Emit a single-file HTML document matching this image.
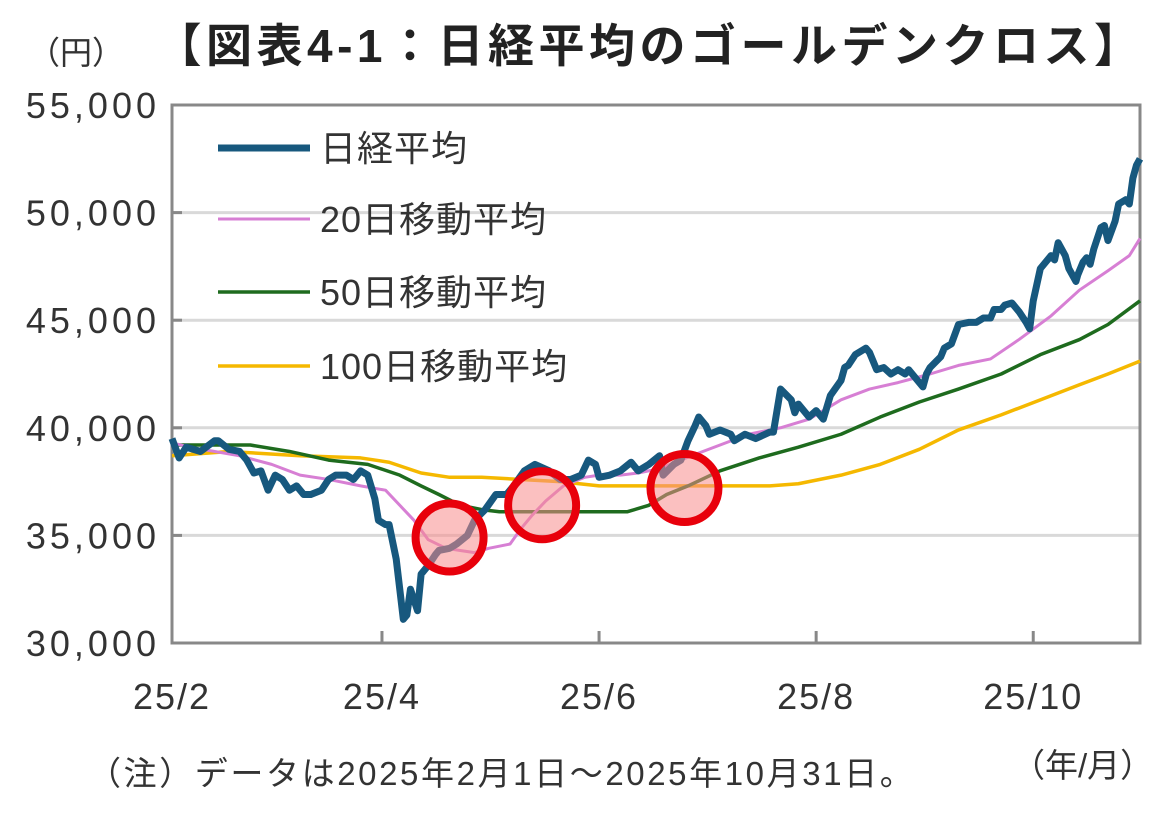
<!DOCTYPE html>
<html><head><meta charset="utf-8"><style>
body{margin:0;background:#fff;}
svg text{font-family:"Liberation Sans","Noto Sans CJK JP",sans-serif;}
</style></head><body>
<svg id="c" width="1172" height="818" viewBox="0 0 1172 818" xmlns="http://www.w3.org/2000/svg">
<text x="650" y="62" text-anchor="middle" font-size="46" font-weight="bold" fill="#222" letter-spacing="4.5">【図表4-1：日経平均のゴールデンクロス】</text>
<text x="28" y="64" font-size="32" fill="#333">（円）</text>
<text x="88" y="785" font-size="33" fill="#333" letter-spacing="2.6">（注）データは2025年2月1日～2025年10月31日。</text>
<text x="1012" y="777" font-size="33" fill="#333">（年/月）</text>
<g id="grid"></g><g id="series"></g><g id="marks"></g><g id="legend"></g>
</svg>
<script>
const yTicks=[30000,35000,40000,45000,50000,55000];
const xTickDays=[0,59,120,181,242];
const xTickLabels=["25/2","25/4","25/6","25/8","25/10"];
const nkDays=[0,2,4,8,12,13,16,19,21,23,25,27,29,31,33,35,37,39,42,44,46,49,51,53,55,57,58,60,61,63,64,65,66,67,69,70,72,74,75,78,80,83,85,88,91,94,96,99,102,106,109,112,115,117,119,120,123,126,129,131,134,137,138,141,143,145,147,148,150,151,154,157,158,161,164,168,169,170,171,174,175,176,179,181,183,185,188,189,190,192,195,196,198,200,202,204,206,207,209,211,212,213,216,217,219,221,224,226,228,230,231,233,234,236,238,240,241,242,244,247,248,249,251,252,254,254.5,256,257,258,259,261,262,263,265,266,268,269,270,271,272];
const nkVals=[39.5,38.6,39.1,38.9,39.4,39.4,39.0,38.9,38.5,37.9,38.0,37.1,37.8,37.6,37.1,37.3,36.9,36.9,37.1,37.6,37.8,37.8,37.6,38.0,37.8,36.7,35.7,35.5,35.5,33.9,32.5,31.1,31.3,32.5,31.5,33.2,33.6,34.1,34.3,34.4,34.6,35.0,35.7,36.2,36.9,36.9,37.3,38.0,38.3,38.0,37.6,37.6,37.8,38.5,38.3,37.7,37.8,38.0,38.4,38.0,38.3,38.7,37.8,38.3,38.5,39.4,40.1,40.5,40.1,39.7,39.9,39.7,39.4,39.7,39.5,39.8,39.8,40.8,41.8,41.3,40.7,41.1,40.5,40.8,40.4,41.5,42.2,42.8,42.9,43.4,43.7,43.5,42.7,42.8,42.5,42.7,42.5,42.7,42.3,41.9,42.5,42.8,43.3,43.7,43.9,44.8,44.9,44.9,45.1,45.1,45.5,45.5,45.7,45.8,45.4,44.9,44.6,45.9,47.4,48.0,47.8,48.6,48.0,47.4,46.8,47.1,47.7,47.9,47.6,48.3,49.3,49.4,48.7,49.6,50.4,50.6,50.4,51.6,52.2,52.5];
const ma20Days=[0,5,19,28,36,44,53,60,64,68,72,77,81,85,89,95,98,101,105,110,116,120,126,131,137,146,154,162,171,179,188,196,204,213,221,230,238,247,255,263,269,272];
const ma20Vals=[39.3,39.1,38.7,38.3,37.8,37.6,37.3,37.1,36.4,35.7,34.8,34.4,34.3,34.2,34.4,34.6,35.3,35.9,36.6,37.3,37.7,37.8,37.8,37.9,38.1,38.7,39.2,39.7,40.0,40.4,41.3,41.8,42.1,42.5,42.9,43.2,44.1,45.2,46.4,47.3,48.0,48.8];
const ma50Days=[0,22,33,44,55,64,70,75,81,87,92,103,117,128,134,139,145,154,165,176,188,199,210,221,233,244,255,263,272];
const ma50Vals=[39.2,39.2,38.9,38.5,38.3,37.8,37.3,36.9,36.4,36.2,36.1,36.1,36.1,36.1,36.4,36.9,37.3,38.0,38.6,39.1,39.7,40.5,41.2,41.8,42.5,43.4,44.1,44.8,45.9];
const ma100Days=[0,16,36,53,61,70,78,87,98,109,120,148,168,176,188,199,210,221,233,244,255,263,272];
const ma100Vals=[38.7,38.9,38.7,38.6,38.4,37.9,37.7,37.7,37.6,37.5,37.3,37.3,37.3,37.4,37.8,38.3,39.0,39.9,40.6,41.3,42.0,42.5,43.1];
const crossDays=[78,104,144];
const crossVals=[34.9,36.4,37.2];
const legendLabels=["日経平均","20日移動平均","50日移動平均","100日移動平均"];

const X0=172,X1=1140,Y0=643,Y1=105,D1=272;
const sx=d=>X0+d/D1*(X1-X0);
const sy=v=>Y0-(v-30000)/25000*(Y0-Y1);
const NS="http://www.w3.org/2000/svg";
function mk(t,a,p){const e=document.createElementNS(NS,t);for(const k in a)e.setAttribute(k,a[k]);p.appendChild(e);return e;}
const g=document.getElementById('grid');
yTicks.forEach(v=>{
  if(v>30000&&v<55000){const l=mk('line',{x1:X0,x2:X1,y1:sy(v),y2:sy(v),stroke:'#d9d9d9','stroke-width':3},g);
  
  }
  const tk=mk('line',{x1:X0,x2:X0+10,y1:sy(v),y2:sy(v),stroke:'#888','stroke-width':3},g);
  
  
  const t=mk('text',{x:160,y:sy(v)+13,'text-anchor':'end','font-size':36,'letter-spacing':4,fill:'#333'},g);
  t.textContent=v.toLocaleString('en-US');
  
  
});
xTickDays.forEach((d,i)=>{
  const tk=mk('line',{x1:sx(d),x2:sx(d),y1:Y0,y2:Y0-12,stroke:'#888','stroke-width':3},g);
  
  
  const t=mk('text',{x:sx(d),y:709,'text-anchor':'middle','font-size':36,'letter-spacing':2,fill:'#333'},g);
  t.textContent=xTickLabels[i];
  
  
});
const fr=mk('rect',{x:X0,y:Y1,width:X1-X0,height:Y0-Y1,fill:'none',stroke:'#888','stroke-width':3},g);


const s=document.getElementById('series');
function line(days,vals,col,w,name){
  const p=mk('polyline',{points:days.map((d,i)=>sx(d)+','+sy(vals[i]*1000)).join(' '),fill:'none',stroke:col,'stroke-width':w,'stroke-linejoin':'round'},s);
  
  
}
line(ma100Days,ma100Vals,'#f5b800',3.5,'ma100-line');
line(ma50Days,ma50Vals,'#1e6b1e',3.5,'ma50-line');
line(ma20Days,ma20Vals,'#d77fd4',3,'ma20-line');
line(nkDays,nkVals,'#17587e',7,'nikkei-line');
const m=document.getElementById('marks');
crossDays.forEach((d,i)=>{
  const c=mk('circle',{cx:sx(d),cy:sy(crossVals[i]*1000),r:34,fill:'rgba(248,140,140,0.55)',stroke:'#e8000b','stroke-width':8},m);
  
  
});
const lg=document.getElementById('legend');
const lcol=['#17587e','#d77fd4','#1e6b1e','#f5b800'],lw=[7,3,3.5,3.5],ly=[148,219,292,366];
legendLabels.forEach((t,i)=>{
  const l=mk('line',{x1:218,x2:310,y1:ly[i],y2:ly[i],stroke:lcol[i],'stroke-width':lw[i]},lg);
  
  
  const tx=mk('text',{x:320,y:ly[i]+13,'font-size':36,'letter-spacing':1,fill:'#333'},lg);
  tx.textContent=t;
  
  
});
</script>
</body></html>
